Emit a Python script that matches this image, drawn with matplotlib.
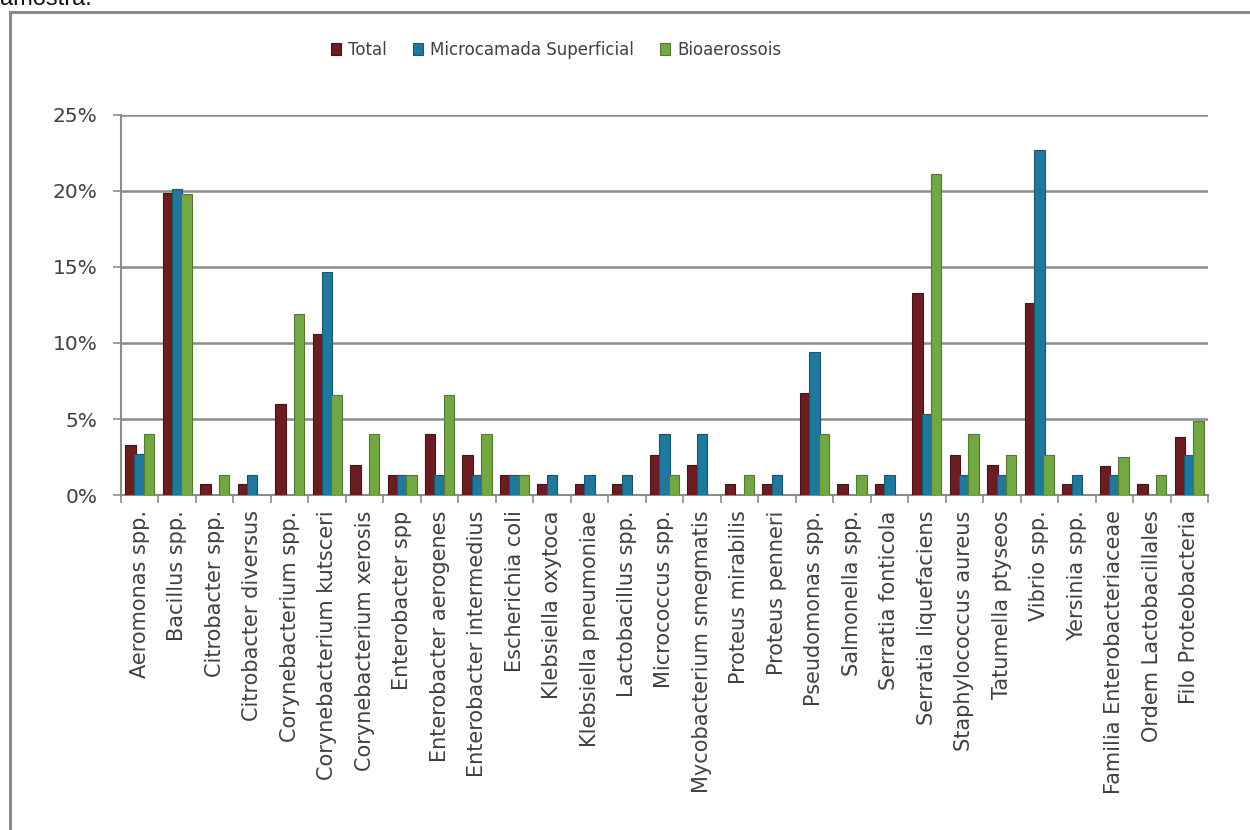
import matplotlib
matplotlib.use("Agg")
import matplotlib.pyplot as plt
from matplotlib.patches import Rectangle
from matplotlib.ticker import FixedLocator, PercentFormatter
import numpy as np

# Genera / species identified
categories = [
    "Aeromonas spp.", "Bacillus spp.", "Citrobacter spp.", "Citrobacter diversus",
    "Corynebacterium spp.", "Corynebacterium kutsceri", "Corynebacterium xerosis",
    "Enterobacter spp", "Enterobacter aerogenes", "Enterobacter intermedius",
    "Escherichia coli", "Klebsiella oxytoca", "Klebsiella pneumoniae",
    "Lactobacillus spp.", "Micrococcus spp.", "Mycobacterium smegmatis",
    "Proteus mirabilis", "Proteus penneri", "Pseudomonas spp.", "Salmonella spp.",
    "Serratia fonticola", "Serratia liquefaciens", "Staphylococcus aureus",
    "Tatumella ptyseos", "Vibrio spp.", "Yersinia spp.",
    "Familia Enterobacteriaceae", "Ordem Lactobacillales", "Filo Proteobacteria",
]

# Relative frequency (%) per sample type
total = [3.3, 19.9, 0.7, 0.7, 6.0, 10.6, 2.0, 1.3, 4.0, 2.6,
         1.3, 0.7, 0.7, 0.7, 2.6, 2.0, 0.7, 0.7, 6.7, 0.7,
         0.7, 13.3, 2.6, 2.0, 12.6, 0.7, 1.9, 0.7, 3.8]
microcamada = [2.7, 20.1, 0.0, 1.3, 0.0, 14.7, 0.0, 1.3, 1.3, 1.3,
               1.3, 1.3, 1.3, 1.3, 4.0, 4.0, 0.0, 1.3, 9.4, 0.0,
               1.3, 5.3, 1.3, 1.3, 22.7, 1.3, 1.3, 0.0, 2.6]
bioaerossois = [4.0, 19.8, 1.3, 0.0, 11.9, 6.6, 4.0, 1.3, 6.6, 4.0,
                1.3, 0.0, 0.0, 0.0, 1.3, 0.0, 1.3, 0.0, 4.0, 1.3,
                0.0, 21.1, 4.0, 2.6, 2.6, 0.0, 2.5, 1.3, 4.9]

series_names = ["Total", "Microcamada Superficial", "Bioaerossois"]
series_values = [total, microcamada, bioaerossois]
colors = ["#6B1D22", "#21789D", "#73A744"]
edges = ["#4A1216", "#155670", "#527A2E"]

text_color = "#404040"
grid_color = "#8C8C8C"
font = "DejaVu Sans"

W, H = 1250, 830
fig = plt.figure(figsize=(W / 100, H / 100), dpi=100)
fig.patch.set_facecolor("white")

# caption fragment above the chart frame
fig.text(0 / W, 1 - 5 / H, "amostra.", fontsize=17, family="Liberation Sans",
         color="#111111", ha="left", va="baseline")

# chart frame
fig.add_artist(Rectangle((10 / W, -0.05), 1.2, 1 - 12 / H + 0.05,
                         transform=fig.transFigure, facecolor="none",
                         edgecolor="#8A8A8A", linewidth=2.2, zorder=0))

ax_left, ax_right = 121, 1208
ax_top, ax_bottom = 115, 495
ax = fig.add_axes([ax_left / W, 1 - ax_bottom / H,
                   (ax_right - ax_left) / W, (ax_bottom - ax_top) / H])

x = np.arange(len(categories))
bw = 0.28
offsets = [-0.25, 0.0, 0.25]
for vals, name, c, ec, off in zip(series_values, series_names, colors, edges, offsets):
    ax.bar(x + off, vals, width=bw, color=c, edgecolor=ec, linewidth=0.8,
           label=name, zorder=3)

ax.set_xlim(-0.5, len(categories) - 0.5)
ax.set_ylim(0, 25)
ax.yaxis.set_major_locator(FixedLocator([0, 5, 10, 15, 20, 25]))
ax.yaxis.set_major_formatter(PercentFormatter(decimals=0))
ax.grid(axis="y", color=grid_color, linewidth=1.8, zorder=0)
ax.set_axisbelow(True)

ax.set_xticks(x)
ax.set_xticklabels(categories, rotation=90, fontsize=15, family=font,
                   color=text_color)
ax.set_xticks(np.arange(-0.5, len(categories)), minor=True)
ax.tick_params(axis="x", which="major", length=0, pad=11)
ax.tick_params(axis="x", which="minor", length=6, width=1.2, color=grid_color)
ax.tick_params(axis="y", length=6, width=1.2, color=grid_color, pad=11,
               labelsize=14.5, labelcolor=text_color)
for lbl in ax.get_yticklabels():
    lbl.set_family(font)

for side in ("top", "right"):
    ax.spines[side].set_visible(False)
for side in ("left", "bottom"):
    ax.spines[side].set_color(grid_color)
    ax.spines[side].set_linewidth(1.5)

leg = fig.legend(loc="center", bbox_to_anchor=(556 / W, 1 - 50 / H), ncol=3,
                 frameon=False, prop={"family": font, "size": 12},
                 handlelength=0.6, handleheight=0.75, handletextpad=0.4,
                 columnspacing=1.6)
for t in leg.get_texts():
    t.set_color(text_color)

fig.savefig("out.png", dpi=100, facecolor="white")
